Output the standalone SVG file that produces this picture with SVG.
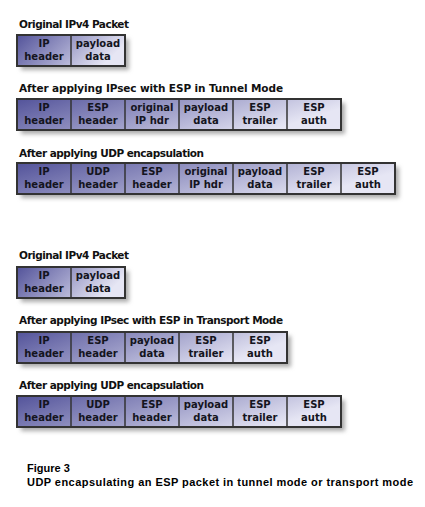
<svg xmlns="http://www.w3.org/2000/svg" width="425" height="507" viewBox="0 0 425 507">
<defs>
<linearGradient id="g" x1="0" y1="0" x2="1" y2="0.3">
<stop offset="0" stop-color="#53539a"/>
<stop offset="0.5" stop-color="#9a9ac6"/>
<stop offset="1" stop-color="#e6e6f4"/>
</linearGradient>
<filter id="sh" x="-10%" y="-30%" width="130%" height="180%">
<feGaussianBlur stdDeviation="2.2"/>
</filter>
<style>
.t{font-family:"DejaVu Sans",Verdana,sans-serif;font-weight:bold;font-size:10.5px;fill:#111}
.c{font-family:"DejaVu Sans",Verdana,sans-serif;font-weight:bold;font-size:10px;fill:#141420;text-anchor:middle}
.cap{font-family:"Liberation Sans",Arial,sans-serif;font-weight:bold;font-size:11px;fill:#000}
.bar{fill:url(#g);stroke:#333;stroke-width:2}
.shadow{fill:#aaa;filter:url(#sh)}
.div{stroke:#333;stroke-width:1.5}
</style>
</defs>
<rect width="425" height="507" fill="#fff"/>

<g id="row1">
<text class="t" x="19" y="28" textLength="110">Original IPv4 Packet</text>
<rect class="shadow" x="21" y="39" width="108" height="31"/>
<rect class="bar" x="17" y="35" width="108" height="31"/>
<line class="div" x1="71" y1="35" x2="71" y2="66"/>
<text class="c" x="44" y="47">IP</text><text class="c" x="44" y="60">header</text>
<text class="c" x="98" y="47">payload</text><text class="c" x="98" y="60">data</text>
</g>

<g id="row2">
<text class="t" x="19" y="92" textLength="264">After applying IPsec with ESP in Tunnel Mode</text>
<rect class="shadow" x="21" y="103" width="324" height="31"/>
<rect class="bar" x="17" y="99" width="324" height="31"/>
<line class="div" x1="71" y1="99" x2="71" y2="130"/>
<line class="div" x1="125" y1="99" x2="125" y2="130"/>
<line class="div" x1="179" y1="99" x2="179" y2="130"/>
<line class="div" x1="233" y1="99" x2="233" y2="130"/>
<line class="div" x1="287" y1="99" x2="287" y2="130"/>
<text class="c" x="44" y="111">IP</text><text class="c" x="44" y="124">header</text>
<text class="c" x="98" y="111">ESP</text><text class="c" x="98" y="124">header</text>
<text class="c" x="152" y="111">original</text><text class="c" x="152" y="124">IP hdr</text>
<text class="c" x="206" y="111">payload</text><text class="c" x="206" y="124">data</text>
<text class="c" x="260" y="111">ESP</text><text class="c" x="260" y="124">trailer</text>
<text class="c" x="314" y="111">ESP</text><text class="c" x="314" y="124">auth</text>
</g>

<g id="row3">
<text class="t" x="19" y="157" textLength="185">After applying UDP encapsulation</text>
<rect class="shadow" x="21" y="167" width="378" height="31"/>
<rect class="bar" x="17" y="163" width="378" height="31"/>
<line class="div" x1="71" y1="163" x2="71" y2="194"/>
<line class="div" x1="125" y1="163" x2="125" y2="194"/>
<line class="div" x1="179" y1="163" x2="179" y2="194"/>
<line class="div" x1="233" y1="163" x2="233" y2="194"/>
<line class="div" x1="287" y1="163" x2="287" y2="194"/>
<line class="div" x1="341" y1="163" x2="341" y2="194"/>
<text class="c" x="44" y="175">IP</text><text class="c" x="44" y="188">header</text>
<text class="c" x="98" y="175">UDP</text><text class="c" x="98" y="188">header</text>
<text class="c" x="152" y="175">ESP</text><text class="c" x="152" y="188">header</text>
<text class="c" x="206" y="175">original</text><text class="c" x="206" y="188">IP hdr</text>
<text class="c" x="260" y="175">payload</text><text class="c" x="260" y="188">data</text>
<text class="c" x="314" y="175">ESP</text><text class="c" x="314" y="188">trailer</text>
<text class="c" x="368" y="175">ESP</text><text class="c" x="368" y="188">auth</text>
</g>

<g id="row4">
<text class="t" x="19" y="259" textLength="110">Original IPv4 Packet</text>
<rect class="shadow" x="21" y="271" width="108" height="31"/>
<rect class="bar" x="17" y="267" width="108" height="31"/>
<line class="div" x1="71" y1="267" x2="71" y2="298"/>
<text class="c" x="44" y="279">IP</text><text class="c" x="44" y="292">header</text>
<text class="c" x="98" y="279">payload</text><text class="c" x="98" y="292">data</text>
</g>

<g id="row5">
<text class="t" x="19" y="324" textLength="264">After applying IPsec with ESP in Transport Mode</text>
<rect class="shadow" x="21" y="336" width="270" height="31"/>
<rect class="bar" x="17" y="332" width="270" height="31"/>
<line class="div" x1="71" y1="332" x2="71" y2="363"/>
<line class="div" x1="125" y1="332" x2="125" y2="363"/>
<line class="div" x1="179" y1="332" x2="179" y2="363"/>
<line class="div" x1="233" y1="332" x2="233" y2="363"/>
<text class="c" x="44" y="344">IP</text><text class="c" x="44" y="357">header</text>
<text class="c" x="98" y="344">ESP</text><text class="c" x="98" y="357">header</text>
<text class="c" x="152" y="344">payload</text><text class="c" x="152" y="357">data</text>
<text class="c" x="206" y="344">ESP</text><text class="c" x="206" y="357">trailer</text>
<text class="c" x="260" y="344">ESP</text><text class="c" x="260" y="357">auth</text>
</g>

<g id="row6">
<text class="t" x="19" y="389" textLength="185">After applying UDP encapsulation</text>
<rect class="shadow" x="21" y="400" width="324" height="31"/>
<rect class="bar" x="17" y="396" width="324" height="31"/>
<line class="div" x1="71" y1="396" x2="71" y2="427"/>
<line class="div" x1="125" y1="396" x2="125" y2="427"/>
<line class="div" x1="179" y1="396" x2="179" y2="427"/>
<line class="div" x1="233" y1="396" x2="233" y2="427"/>
<line class="div" x1="287" y1="396" x2="287" y2="427"/>
<text class="c" x="44" y="408">IP</text><text class="c" x="44" y="421">header</text>
<text class="c" x="98" y="408">UDP</text><text class="c" x="98" y="421">header</text>
<text class="c" x="152" y="408">ESP</text><text class="c" x="152" y="421">header</text>
<text class="c" x="206" y="408">payload</text><text class="c" x="206" y="421">data</text>
<text class="c" x="260" y="408">ESP</text><text class="c" x="260" y="421">trailer</text>
<text class="c" x="314" y="408">ESP</text><text class="c" x="314" y="421">auth</text>
</g>

<g id="caption">
<text class="cap" x="27" y="472">Figure 3</text>
<text class="cap" x="27" y="486" textLength="386">UDP encapsulating an ESP packet in tunnel mode or transport mode</text>
</g>
<g id="connectors"/>
</svg>
